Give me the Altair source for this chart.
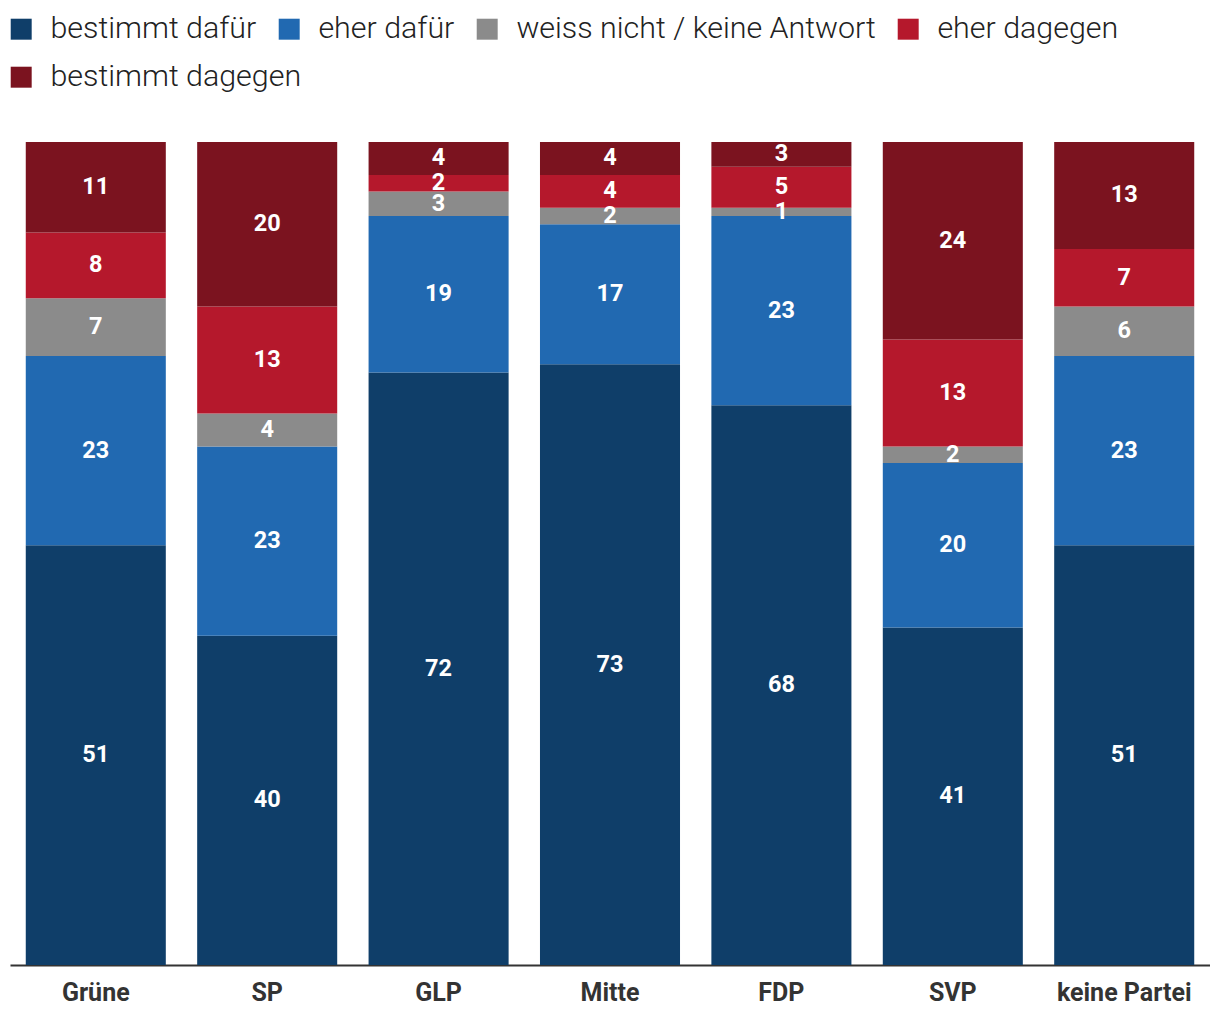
import altair as alt
import pandas as pd

parties = ["Grüne", "SP", "GLP", "Mitte", "FDP", "SVP", "keine Partei"]
responses = ["bestimmt dafür", "eher dafür", "weiss nicht / keine Antwort", "eher dagegen", "bestimmt dagegen"]
colors = ["#0f3e69", "#2169b1", "#8b8b8b", "#b5182c", "#7b131f"]

bestimmt_dafuer = [51, 40, 72, 73, 68, 41, 51]
eher_dafuer = [23, 23, 19, 17, 23, 20, 23]
weiss_nicht = [7, 4, 3, 2, 1, 2, 6]
eher_dagegen = [8, 13, 2, 4, 5, 13, 7]
bestimmt_dagegen = [11, 20, 4, 4, 3, 24, 13]

series = [bestimmt_dafuer, eher_dafuer, weiss_nicht, eher_dagegen, bestimmt_dagegen]
rows = []
for ri, (resp, vals) in enumerate(zip(responses, series)):
    for p, v in zip(parties, vals):
        rows.append({"partei": p, "antwort": resp, "wert": v, "ord": ri})
df = pd.DataFrame(rows)

FONT = "Roboto"

base = alt.Chart(df).transform_stack(
    stack="wert", groupby=["partei"], as_=["y0", "y1"],
    sort=[alt.SortField("ord", order="ascending")]
).transform_calculate(mid="(datum.y0 + datum.y1) / 2", antwort2="datum.antwort")

x = alt.X("partei:N", sort=parties, title=None,
          scale=alt.Scale(paddingInner=0.183, paddingOuter=0.092),
          axis=alt.Axis(labelAngle=0, ticks=False, domainColor="#333333", domainWidth=2,
                        labelFontSize=25, labelFontWeight="bold", labelColor="#333333",
                        labelFont=FONT, labelPadding=15))
yscale = alt.Scale(domain=[0, 100], nice=False, zero=True)

legend_common = dict(title=None, orient="none", legendX=-4,
                     direction="horizontal", gridAlign="none",
                     symbolType="square", symbolSize=440, symbolStrokeWidth=0,
                     symbolOpacity=1,
                     labelFontSize=30.4, labelFont=FONT, labelFontWeight=300,
                     labelColor="#222222", labelOffset=14,
                     columnPadding=17, padding=0, labelLimit=600)

bars = base.mark_bar().encode(
    x=x,
    y=alt.Y("y0:Q", scale=yscale, axis=None),
    y2="y1:Q",
    color=alt.Color("antwort:N", sort=responses,
                    scale=alt.Scale(domain=responses, range=colors),
                    legend=alt.Legend(values=responses[:4], legendY=-128, **legend_common)),
)

# second legend row (last response category)
legend_row2 = base.transform_filter(
    alt.datum.antwort == responses[4]
).mark_bar(opacity=0).encode(
    x=alt.X("partei:N", sort=parties),
    y=alt.Y("y0:Q", scale=yscale),
    y2="y1:Q",
    fill=alt.Fill("antwort2:N",
                  scale=alt.Scale(domain=responses[4:], range=colors[4:]),
                  legend=alt.Legend(legendY=-80, **legend_common)),
)

labels = base.mark_text(fontSize=23.5, fontWeight="bold", font=FONT, color="#ffffff",
                        baseline="middle").encode(
    x=alt.X("partei:N", sort=parties),
    y=alt.Y("mid:Q", scale=yscale),
    text="wert:Q",
)

chart = alt.layer(bars, legend_row2, labels).resolve_scale(
    color="independent", fill="independent"
).properties(
    width=1200, height=823,
    autosize=alt.AutoSizeParams(type="none"),
    padding={"left": 2, "top": 134, "right": 0, "bottom": 60},
).configure_view(stroke=None)

chart.save("out.html", embed_options={"renderer": "svg", "actions": False})
